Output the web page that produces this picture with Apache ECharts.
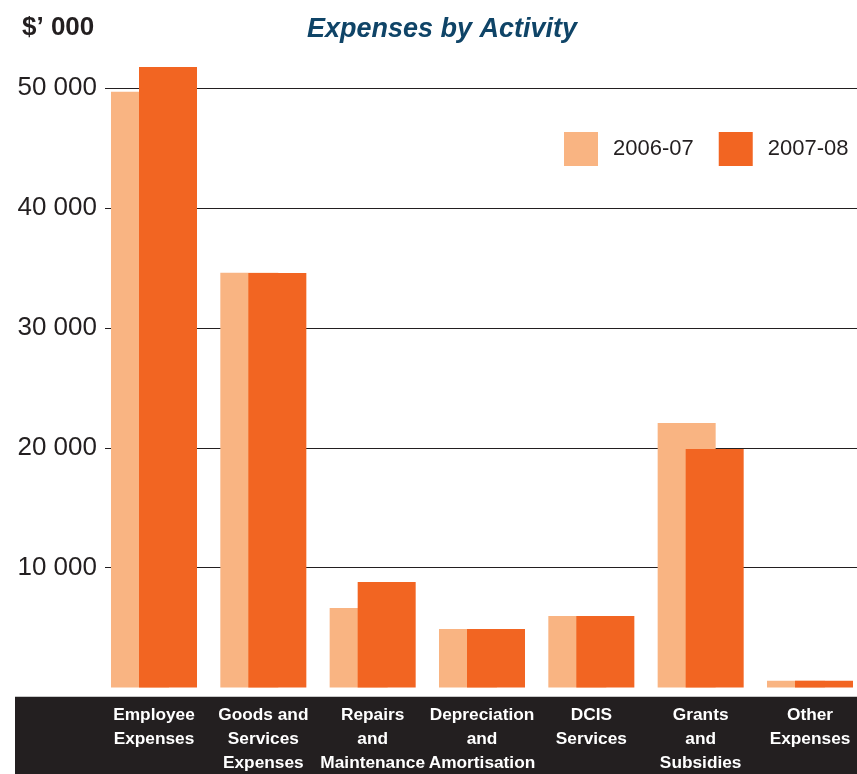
<!DOCTYPE html>
<html>
<head>
<meta charset="utf-8">
<title>Expenses by Activity</title>
<script src="https://cdn.jsdelivr.net/npm/echarts@6/dist/echarts.min.js"></script>
<style>
  html, body { margin: 0; padding: 0; background: #ffffff; }
  #chart { width: 857px; height: 774px; }
</style>
</head>
<body>
<div id="chart"></div>
<script>
// Expense categories (multi-line labels as printed under the bars)
const categories = [
  'Employee\nExpenses',
  'Goods and\nServices\nExpenses',
  'Repairs\nand\nMaintenance',
  'Depreciation\nand\nAmortisation',
  'DCIS\nServices',
  'Grants\nand\nSubsidies',
  'Other\nExpenses'
];

// Series names
const seriesNames = ['2006-07', '2007-08'];

// Expenses in $'000
const expenses2006 = [49700, 34600, 6630, 4880, 5970, 22070, 570];
const expenses2007 = [51780, 34590, 8800, 4880, 5970, 19900, 570];

// Value axis ticks that carry a label and a gridline
const valueTicks = [10000, 20000, 30000, 40000, 50000];
const axisMax = 52000;

const INK = '#231f20';
const LIGHT = '#f9b482';
const DARK = '#f26522';
const FONT = '"Liberation Sans", Arial, Helvetica, sans-serif';

function formatThousands(v) {
  return String(v).replace(/\B(?=(\d{3})+(?!\d))/g, ' ');
}

const chart = echarts.init(document.getElementById('chart'), null, { renderer: 'canvas' });

const gridTop = 64.3;
const gridBottom = 86.5;

chart.setOption({
  animation: false,
  backgroundColor: '#ffffff',
  textStyle: { fontFamily: FONT },
  title: {
    text: 'Expenses by Activity',
    left: 437,
    top: 11,
    textAlign: 'center',
    textStyle: {
      fontFamily: FONT,
      fontSize: 27,
      fontWeight: 'bold',
      fontStyle: 'italic',
      color: '#0f4467'
    }
  },
  legend: {
    data: seriesNames,
    left: 564,
    top: 132,
    padding: 0,
    itemWidth: 34,
    itemHeight: 34,
    itemGap: 25,
    icon: 'rect',
    textStyle: {
      fontFamily: FONT,
      fontSize: 22,
      color: INK,
      padding: [0, 0, 0, 10]
    }
  },
  graphic: [
    {
      type: 'rect',
      z: -1,
      shape: { x: 15, y: 697, width: 842, height: 77 },
      style: { fill: INK }
    },
    {
      type: 'line',
      z: -1,
      shape: { x1: 15, y1: 696.5, x2: 857, y2: 696.5 },
      style: { stroke: '#c8c8c8', lineWidth: 1 }
    },
    {
      type: 'text',
      left: 22,
      top: 15,
      style: {
        text: '$\u2019 000',
        fontFamily: FONT,
        fontSize: 26,
        fontWeight: 'bold',
        fill: INK
      }
    }
  ],
  grid: [
    // gridlines and value labels
    { left: 105, right: 0, top: gridTop, bottom: gridBottom, outerBoundsMode: 'none' },
    // bars and category labels
    { left: 99.33, right: -7.67, top: gridTop, bottom: gridBottom, outerBoundsMode: 'none' }
  ],
  xAxis: [
    { type: 'category', gridIndex: 0, data: categories, show: false },
    {
      type: 'category',
      gridIndex: 1,
      data: categories,
      axisLine: { show: false },
      axisTick: { show: false },
      axisLabel: {
        interval: 0,
        margin: 15.5,
        color: '#ffffff',
        fontFamily: FONT,
        fontWeight: 'bold',
        fontSize: 17.3,
        lineHeight: 24
      }
    }
  ],
  yAxis: [
    {
      type: 'value',
      gridIndex: 0,
      min: 0,
      max: axisMax,
      interval: 10000,
      axisLine: { show: false },
      axisTick: { show: false },
      axisLabel: {
        margin: 8,
        fontFamily: FONT,
        fontSize: 26,
        color: INK,
        showMinLabel: false,
        showMaxLabel: false,
        formatter: function (v) {
          return valueTicks.indexOf(v) >= 0 ? formatThousands(v) : '';
        }
      },
      splitLine: {
        show: true,
        showMinLine: false,
        showMaxLine: false,
        lineStyle: { color: INK, width: 1 }
      }
    },
    {
      type: 'value',
      gridIndex: 1,
      min: 0,
      max: axisMax,
      interval: 10000,
      show: false,
      splitLine: { show: false }
    }
  ],
  series: [
    {
      name: seriesNames[0],
      type: 'bar',
      xAxisIndex: 1,
      yAxisIndex: 1,
      data: expenses2006,
      barWidth: 58,
      barGap: '-51.7%',
      itemStyle: { color: LIGHT },
      z: 2
    },
    {
      name: seriesNames[1],
      type: 'bar',
      xAxisIndex: 1,
      yAxisIndex: 1,
      data: expenses2007,
      barWidth: 58,
      barGap: '-51.7%',
      itemStyle: { color: DARK },
      z: 3
    }
  ]
});
</script>
</body>
</html>
